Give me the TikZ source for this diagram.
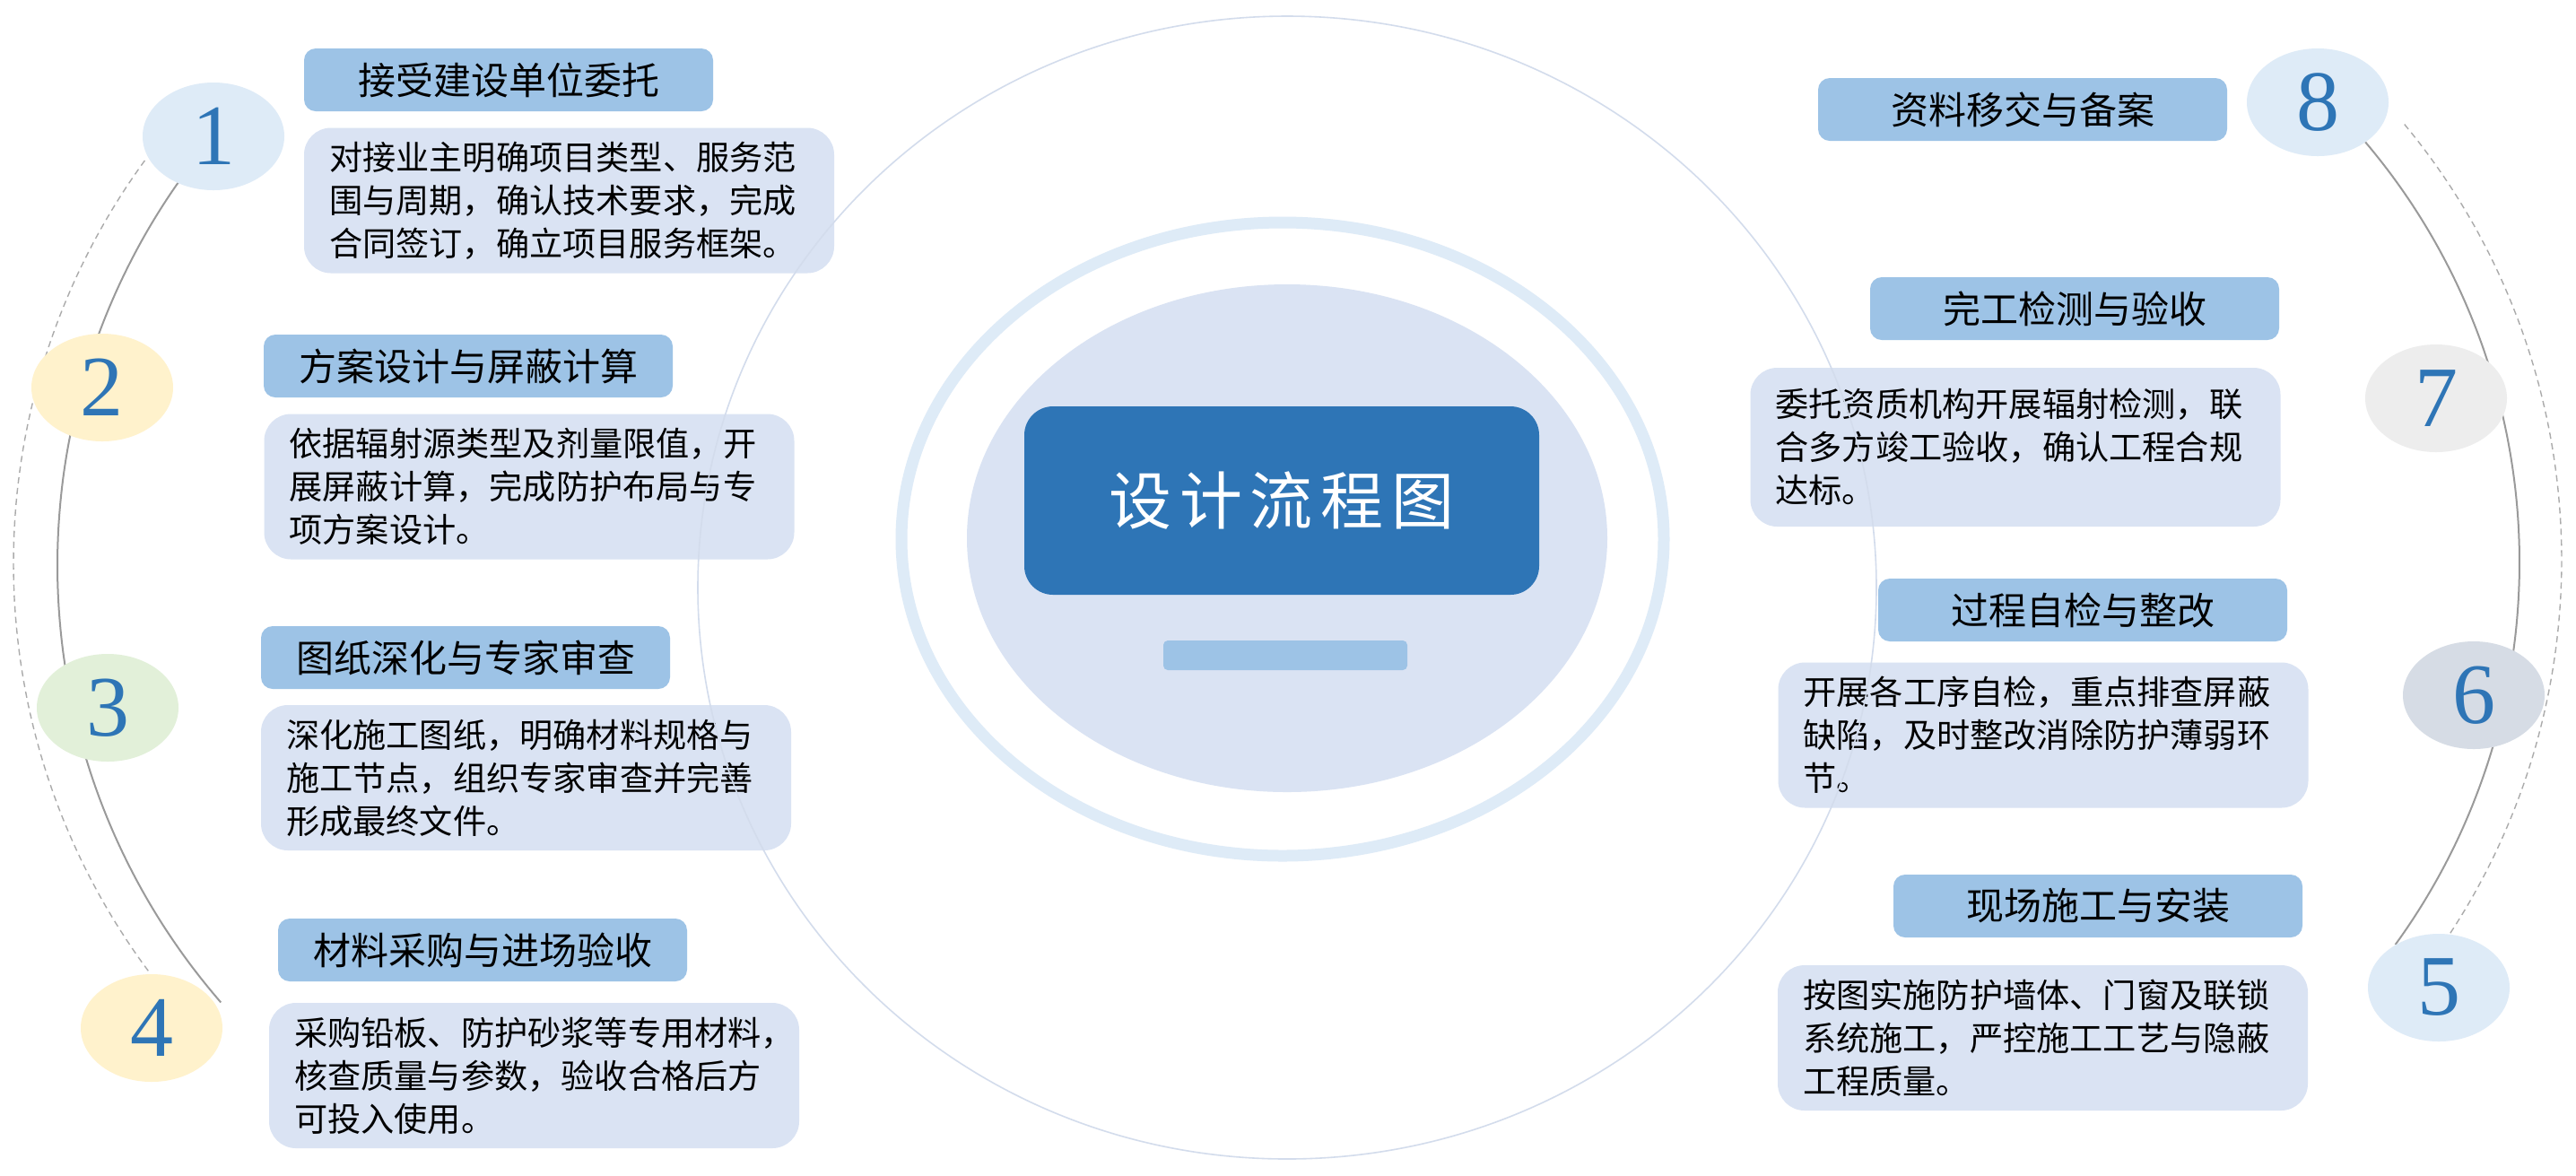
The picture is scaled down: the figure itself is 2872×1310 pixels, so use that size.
\documentclass[tikz,border=0pt]{standalone}
\usepackage{fontspec}
\newfontfamily\cjk{Noto Sans CJK SC}
\newfontfamily\numfont{Liberation Serif}
\usetikzlibrary{shapes.geometric}
\definecolor{titlebg}{HTML}{9DC3E6}
\definecolor{descbg}{HTML}{DAE3F3}
\definecolor{ringc}{HTML}{DEEBF7}
\definecolor{mainblue}{HTML}{2E75B6}
\definecolor{cyellow}{HTML}{FFF2CC}
\definecolor{cgreen}{HTML}{E2F0D9}
\definecolor{cslate}{HTML}{D6DCE5}
\definecolor{cgray}{HTML}{EDEDED}
\definecolor{arcsolid}{HTML}{9A9A9A}
\definecolor{arcdash}{HTML}{ABABAB}
\definecolor{faintc}{HTML}{D3DCEC}
\begin{document}
\begin{tikzpicture}[x=0.25pt,y=-0.25pt,
  titlebox/.style={fill=titlebg, rounded corners=3.25pt, minimum width=114pt, minimum height=17.5pt, inner sep=0pt, font=\cjk\fontsize{10.5}{12}\selectfont, text=black},
  descbox/.style={fill=descbg, rounded corners=7.5pt, text width=133.75pt, inner xsep=7pt, inner ysep=2pt, minimum height=40.5pt, align=left, font=\cjk\fontsize{9.3}{12}\selectfont, text=black},
  numc/.style={ellipse, minimum width=39.5pt, minimum height=30pt, inner sep=0pt, font=\numfont\fontsize{24}{24}\selectfont, text=mainblue},
  solidarc/.style={draw=arcsolid, line width=0.5pt},
  dasharc/.style={draw=arcdash, line width=0.35pt, dash pattern=on 1.75pt off 1.25pt},
]
\useasboundingbox (0,0) rectangle (2872,1310);
\fill[white] (0,0) rectangle (2872,1310);

% side arcs
\draw[solidarc] plot[domain=139:220, samples=90, smooth] ({807+743*cos(\x)},{630+743*sin(\x)});
\draw[dasharc] plot[domain=143.4:216.3, samples=90, smooth] ({777+762*cos(\x)},{628+762*sin(\x)});
\draw[solidarc] plot[domain=-45:36, samples=90, smooth] ({2084+725*cos(\x)},{627+725*sin(\x)});
\draw[dasharc] plot[domain=-39.7:33.3, samples=90, smooth] ({2096+760*cos(\x)},{624+760*sin(\x)});

% central graphic
\draw[ringc, line width=3.25pt] (1430,601) ellipse [x radius=425, y radius=353];
\fill[descbg] (1435,600) ellipse [x radius=357, y radius=283];
\node[fill=mainblue, rounded corners=8pt, minimum width=143.5pt, minimum height=52.5pt, inner sep=0pt, text=white, font=\cjk\fontsize{17.5}{20}\selectfont] (center) at (1429,558) {设\hspace{2.2pt}计\hspace{2.2pt}流\hspace{2.2pt}程\hspace{2.2pt}图};
\node[fill=titlebg, rounded corners=1.25pt, minimum width=68pt, minimum height=8.25pt, inner sep=0pt] (bar) at (1433,730.5) {};

% title boxes
\node[titlebox] (t1) at (567,89) {接受建设单位委托};
\node[titlebox] (t2) at (522,408) {方案设计与屏蔽计算};
\node[titlebox] (t3) at (519,733) {图纸深化与专家审查};
\node[titlebox] (t4) at (538,1059) {材料采购与进场验收};
\node[titlebox] (t5) at (2339,1010) {现场施工与安装};
\node[titlebox] (t6) at (2322,680) {过程自检与整改};
\node[titlebox] (t7) at (2313,344) {完工检测与验收};
\node[titlebox] (t8) at (2255,122) {资料移交与备案};

% description boxes
\node[descbox] (d1) at (634.5,223.5) {对接业主明确项目类型、服务范\\围与周期，确认技术要求，完成\\合同签订，确立项目服务框架。};
\node[descbox] (d2) at (590,542.5) {依据辐射源类型及剂量限值，开\\展屏蔽计算，完成防护布局与专\\项方案设计。};
\node[descbox] (d3) at (586.5,867) {深化施工图纸，明确材料规格与\\施工节点，组织专家审查并完善\\形成最终文件。};
\node[descbox] (d4) at (595.5,1199) {采购铅板、防护砂浆等专用材料，\\核查质量与参数，验收合格后方\\可投入使用。};
\node[descbox] (d5) at (2277.5,1157) {按图实施防护墙体、门窗及联锁\\系统施工，严控施工工艺与隐蔽\\工程质量。};
\node[descbox] (d6) at (2278,819.5) {开展各工序自检，重点排查屏蔽\\缺陷，及时整改消除防护薄弱环\\节。};
\node[descbox, minimum height=44.25pt] (d7) at (2247,498.5) {委托资质机构开展辐射检测，联\\合多方竣工验收，确认工程合规\\达标。};

% faint large circle (on top of boxes)
\draw[faintc, line width=0.4pt] (1435,655) ellipse [x radius=657, y radius=637];

% number circles
\node[numc, fill=ringc] (n1) at (238,152) {1};
\node[numc, fill=cyellow] (n2) at (114,432) {2};
\node[numc, fill=cgreen] (n3) at (120,789) {3};
\node[numc, fill=cyellow] (n4) at (169,1146) {4};
\node[numc, fill=ringc] (n5) at (2719,1101) {5};
\node[numc, fill=cslate] (n6) at (2758,775) {6};
\node[numc, fill=cgray] (n7) at (2716,444) {7};
\node[numc, fill=ringc] (n8) at (2584,114) {8};
\end{tikzpicture}
\end{document}
